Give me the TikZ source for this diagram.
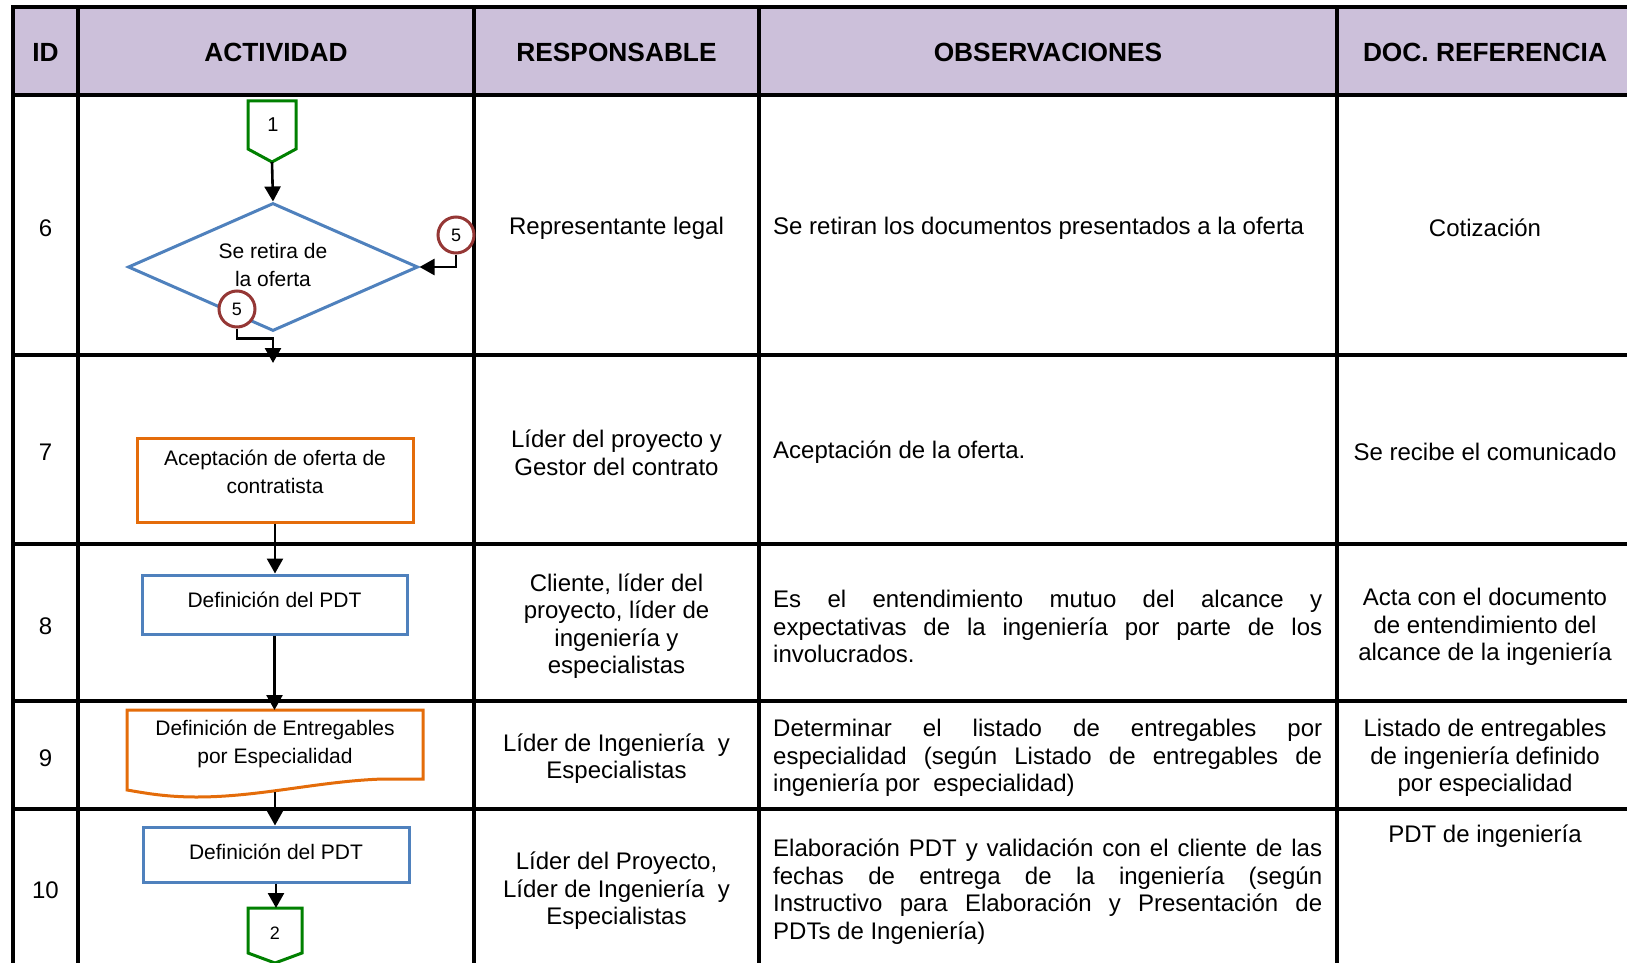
\documentclass[tikz,border=0pt]{standalone}
\usepackage{fontspec}
\setmainfont{Liberation Sans}
\usetikzlibrary{arrows.meta,shapes.geometric}
\definecolor{hdr}{RGB}{204,192,218}
\definecolor{fblue}{RGB}{79,129,189}
\definecolor{forange}{RGB}{228,108,10}
\definecolor{fgreen}{RGB}{0,128,0}
\definecolor{fred}{RGB}{149,55,53}
\newcommand\jline[1]{\makebox[549pt][s]{#1}}
\begin{document}
\begin{tikzpicture}[x=1pt,y=-1pt,
  grid/.style={line width=3.6pt,black,line cap=rect},
  body/.style={font=\fontsize{24}{27.5}\selectfont,align=center,inner sep=0pt,yshift=-2pt},
  obs/.style={font=\fontsize{24}{27.5}\selectfont,align=left,inner sep=0pt,anchor=west,yshift=-2pt},
  head/.style={font=\fontsize{26.3}{30}\selectfont\bfseries,inner sep=0pt},
  flow/.style={font=\fontsize{21}{28}\selectfont,align=center,inner sep=0pt},
  bluebox/.style={draw=fblue,line width=3pt,fill=white,inner sep=0pt},
  orangebox/.style={draw=forange,line width=3pt,fill=white,inner sep=0pt},
  conn/.style={draw=fgreen,line width=3pt,fill=white,line join=miter},
  refc/.style={circle,draw=fred,fill=white,line width=3pt,minimum size=36pt,inner sep=0pt,font=\fontsize{18}{18}\selectfont},
  arr/.style={line width=2.6pt,black,-{Triangle[width=16pt,length=15pt]}}]
\useasboundingbox (0,0) rectangle (1627,963);
\clip (0,0) rectangle (1627,963);
% header background
\fill[hdr] (13,7) rectangle (1640,95);
% grid
\foreach \yy in {7,95,355,544,701,809} \draw[grid] (13,\yy) -- (1650,\yy);
\foreach \xx in {13,78,474,759,1337} \draw[grid] (\xx,7) -- (\xx,980);
% header texts
\node[head] (hid) at (45.5,52) {ID};
\node[head] (hact) at (276,52) {ACTIVIDAD};
\node[head] (hres) at (616.5,52) {RESPONSABLE};
\node[head] (hobs) at (1048,52) {OBSERVACIONES};
\node[head] (hdoc) at (1485,52) {DOC. REFERENCIA};
% ID column
\node[body] (id6) at (45.5,226) {6};
\node[body] (id7) at (45.5,450) {7};
\node[body] (id8) at (45.5,624) {8};
\node[body] (id9) at (45.5,756) {9};
\node[body] (id10) at (45.5,888) {10};
% Responsable column
\node[body] (r6) at (616.5,226) {Representante legal};
\node[body] (r7) at (616.5,451) {Líder del proyecto y\\Gestor del contrato};
\node[body] (r8) at (616.5,624) {Cliente, líder del\\proyecto, líder de\\ingeniería y\\especialistas};
\node[body] (r9) at (616.5,756.5) {Líder de Ingeniería\ \ y\\Especialistas};
\node[body] (r10) at (616.5,889) {Líder del Proyecto,\\Líder de Ingeniería\ \ y\\Especialistas};
% Observaciones column
\node[obs] (o6) at (773,226) {Se retiran los documentos presentados a la oferta};
\node[obs] (o7) at (773,450) {Aceptación de la oferta.};
\node[obs] (o8) at (773,624.5) {\jline{Es el entendimiento mutuo del alcance y}\\\jline{expectativas de la ingeniería por parte de los}\\involucrados.};
\node[obs] (o9) at (773,756) {\jline{Determinar el listado de entregables por}\\\jline{especialidad (según Listado de entregables de}\\ingeniería por\ \ especialidad)};
\node[obs] (o10) at (773,889.5) {\jline{Elaboración PDT y validación con el cliente de las}\\\jline{fechas de entrega de la ingeniería (según}\\\jline{Instructivo para Elaboración y Presentación de}\\PDTs de Ingeniería)};
% Doc referencia column
\node[body] (d6) at (1485,226) {Cotización};
\node[body] (d7) at (1485,450) {Se recibe el comunicado};
\node[body] (d8) at (1485,625) {Acta con el documento\\de entendimiento del\\alcance de la ingeniería};
\node[body] (d9) at (1485,756) {Listado de entregables\\de ingeniería definido\\por especialidad};
\node[body] (d10) at (1485,834) {PDT de ingeniería};
% ---- flowchart ----
% connector 1
\draw[conn] (248,101) -- (296,101) -- (296,149) -- (272,162) -- (248,149) -- cycle;
\node[font=\fontsize{20}{20}\selectfont,inner sep=0pt] (k1) at (273,125) {1};
\coordinate (k1tip) at (272,162);
% decision
\node[diamond,draw=fblue,line width=3pt,fill=white,aspect=2.27,minimum width=290pt,minimum height=128pt,inner sep=0pt] (dia) at (273,267) {};
\node[flow] (diat) at (273,265) {Se retira de\\la oferta};
\node[refc] (c5r) at (456,235) {5};
\node[refc] (c5b) at (237,309) {5};
\coordinate (r7in) at (273,363);
\draw[arr] (k1tip) -- (dia.north);
\draw[arr] (c5r.south) |- (dia.east);
\draw[arr] (c5b.south) -- ++(0,10) -| (r7in);
% box 7
\node[orangebox,minimum width=276pt,minimum height=84pt] (b7) at (275,480) {};
\node[flow] (b7t) at (275,472) {Aceptación de oferta de\\contratista};
% box 8
\node[bluebox,minimum width=265pt,minimum height=59pt] (b8) at (274.5,604.5) {};
\node[flow] (b8t) at (274.5,600) {Definición del PDT};
% box 9 (document)
\draw[orangebox] (127,710) -- (423,710) -- (423,779) -- (383,779) .. controls (320,781) and (260,797) .. (197,797) .. controls (165,797) and (145,793) .. (127,790) -- cycle;
\node[flow] (b9t) at (275,744) {Definición de Entregables\\por Especialidad};
\coordinate (b9top) at (275,710);
\coordinate (b9bot) at (275,792);
% box 10
\node[bluebox,minimum width=266pt,minimum height=55pt] (b10) at (276,854.5) {};
\node[flow] (b10t) at (276,852) {Definición del PDT};
% connector 2
\draw[conn] (248,908) -- (302,908) -- (302,953) -- (275,963) -- (248,953) -- cycle;
\node[font=\fontsize{18}{18}\selectfont,inner sep=0pt] (k2) at (275,933) {2};
\coordinate (k2top) at (275,908);
% arrows
\draw[arr] (b7.south) -- (b7.south |- b8.north);
\draw[arr] (b8.south) -- (b8.south |- b9top);
\draw[arr] (b9bot) -- (b9bot |- b10.north);
\draw[arr] (b10.south) -- (b10.south |- k2top);
\end{tikzpicture}
\end{document}
